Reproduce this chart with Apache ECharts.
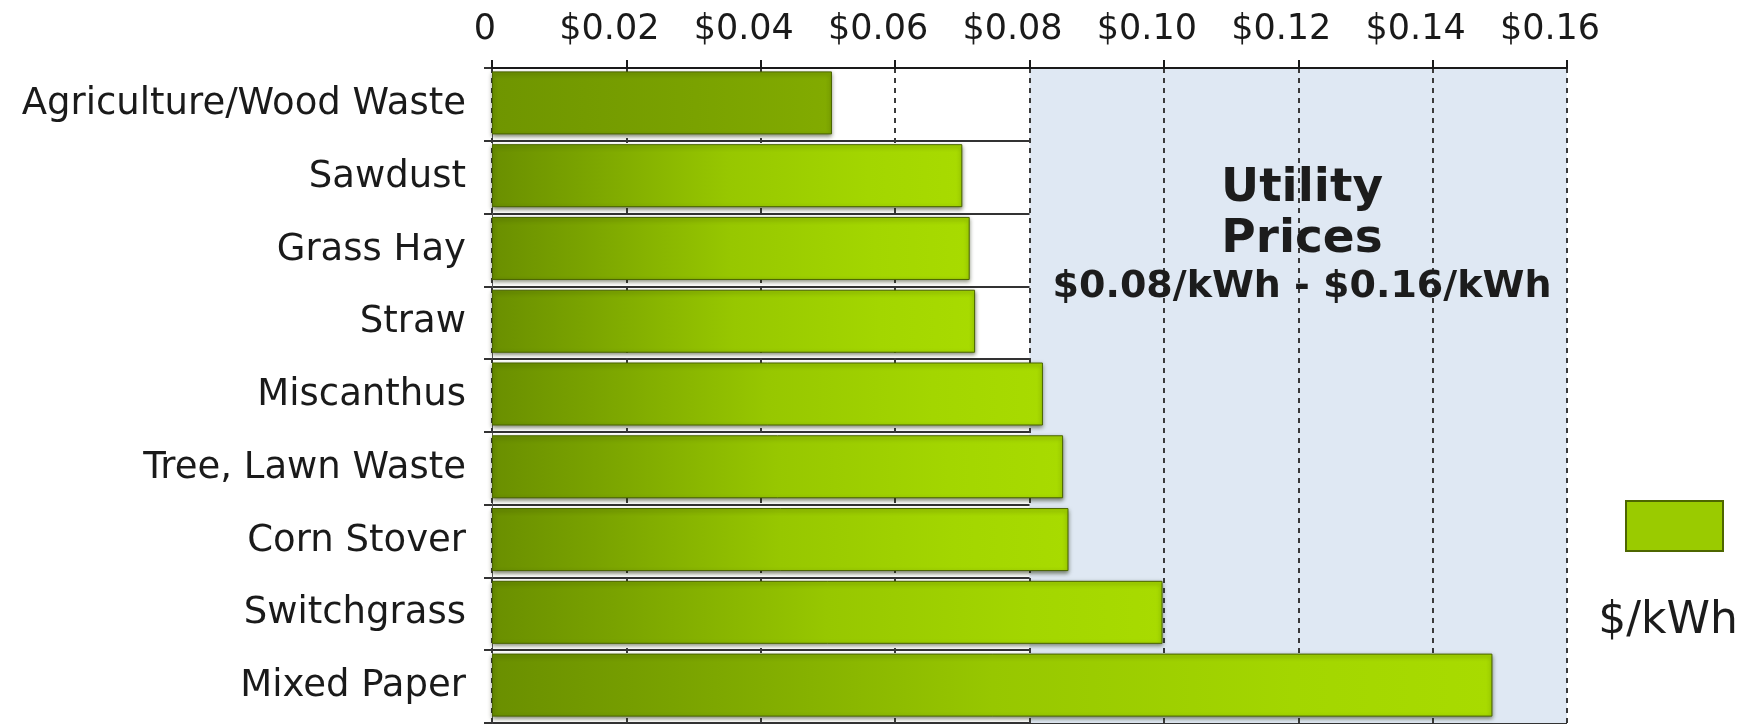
<!DOCTYPE html>
<html>
<head>
<meta charset="utf-8">
<script src="https://cdn.jsdelivr.net/npm/echarts@6/dist/echarts.min.js"></script>
<style>
  html, body { margin: 0; padding: 0; background: #ffffff; }
  #chart { width: 1758px; height: 726px; }
</style>
</head>
<body>
<div id="chart"></div>
<script>
// ---- data ----
const categories = [
  'Agriculture/Wood Waste',
  'Sawdust',
  'Grass Hay',
  'Straw',
  'Miscanthus',
  'Tree, Lawn Waste',
  'Corn Stover',
  'Switchgrass',
  'Mixed Paper'
];
const costPerKWh = [0.0506, 0.0700, 0.0711, 0.0719, 0.0820, 0.0850, 0.0858, 0.0998, 0.1489];
const spacerValues = [0, 0, 0, 0, 0, 0, 0, 0, 0];
const tickLabels = ['0', '$0.02', '$0.04', '$0.06', '$0.08', '$0.10', '$0.12', '$0.14', '$0.16'];
const utilityRange = [0.08, 0.16];
const seriesName = '$/kWh';

// ---- chart ----
const chart = echarts.init(document.getElementById('chart'), null, { renderer: 'canvas' });

const barGrad = new echarts.graphic.LinearGradient(0, 0, 1, 0, [
  { offset: 0, color: '#6a8f00' },
  { offset: 0.18, color: '#79a200' },
  { offset: 0.5, color: '#97c700' },
  { offset: 0.8, color: '#a3d600' },
  { offset: 1, color: '#a8db00' }
]);
const darkGrad = new echarts.graphic.LinearGradient(0, 0, 1, 0, [
  { offset: 0, color: '#6f9500' },
  { offset: 0.6, color: '#7aa200' },
  { offset: 1, color: '#82ab00' }
]);

const option = {
  animation: false,
  backgroundColor: '#ffffff',
  grid: { left: 492, right: 191, top: 68, bottom: 3, containLabel: false },
  xAxis: {
    type: 'value',
    position: 'top',
    min: 0,
    max: 0.16,
    interval: 0.02,
    z: 2,
    axisLine: { show: true, lineStyle: { color: '#1a1a1a', width: 2 } },
    axisTick: { show: true, length: 8, lineStyle: { color: '#1a1a1a', width: 2 } },
    axisLabel: {
      margin: 21,
      color: '#1a1a1a',
      formatter: function (v) {
        const i = Math.round(v / 0.02);
        return i === 0 ? '{z|' + tickLabels[i] + '}' : '{d|' + tickLabels[i] + '}';
      },
      rich: {
        z: { fontFamily: 'DejaVu Sans', fontSize: 35, color: '#1a1a1a', padding: [0, 14, 0, 0] },
        d: { fontFamily: 'DejaVu Sans', fontSize: 35, color: '#1a1a1a', padding: [0, 34, 0, 0] }
      }
    },
    splitLine: { show: true, lineStyle: { color: '#3a3a3a', width: 2, type: [5, 5] } }
  },
  yAxis: {
    type: 'category',
    data: categories,
    inverse: true,
    z: 0,
    axisLine: { show: true, lineStyle: { color: '#555555', width: 1 } },
    axisTick: { show: true, length: 8, lineStyle: { color: '#333333', width: 2 } },
    axisLabel: {
      margin: 26,
      fontFamily: 'DejaVu Sans',
      fontSize: 37,
      color: '#1a1a1a'
    },
    splitLine: { show: true, lineStyle: { color: '#333333', width: 2 } }
  },
  legend: {
    left: 1625,
    top: 500,
    padding: 0,
    icon: 'rect',
    itemWidth: 97,
    itemHeight: 50,
    formatter: function () { return ''; },
    textStyle: { fontSize: 1 },
    data: [{ name: seriesName, itemStyle: { color: '#9acb00', borderColor: '#4d6600', borderWidth: 2 } }]
  },
  series: [
    {
      name: 'utility',
      type: 'bar',
      z: 1,
      data: spacerValues,
      silent: true,
      itemStyle: { color: 'transparent' },
      barWidth: 0,
      markArea: {
        silent: true,
        z: 1,
        itemStyle: { color: '#dfe8f3' },
        data: [[{ xAxis: utilityRange[0] }, { xAxis: utilityRange[1] }]]
      }
    },
    {
      name: seriesName,
      type: 'bar',
      z: 3,
      data: costPerKWh,
      barWidth: 63,
      barGap: 0,
      itemStyle: {
        color: function (p) { return p.dataIndex === 0 ? darkGrad : barGrad; },
        borderColor: '#4a6400',
        borderWidth: 1,
        shadowColor: 'rgba(30,40,0,0.55)',
        shadowBlur: 4,
        shadowOffsetY: 2
      }
    },
    {
      name: 'spacer',
      type: 'bar',
      z: 3,
      data: spacerValues,
      barWidth: 4,
      barGap: 0,
      silent: true,
      itemStyle: { color: 'transparent' }
    }
  ],
  graphic: [
    {
      type: 'text', z: 10,
      style: {
        text: 'Utility', x: 1302, y: 189, textAlign: 'center', textVerticalAlign: 'middle',
        fontFamily: 'DejaVu Sans', fontWeight: 'bold', fontSize: 47, fill: '#1c1c1c'
      }
    },
    {
      type: 'text', z: 10,
      style: {
        text: 'Prices', x: 1302, y: 240, textAlign: 'center', textVerticalAlign: 'middle',
        fontFamily: 'DejaVu Sans', fontWeight: 'bold', fontSize: 47, fill: '#1c1c1c'
      }
    },
    {
      type: 'text', z: 10,
      style: {
        text: '$0.08/kWh - $0.16/kWh', x: 1302, y: 287, textAlign: 'center', textVerticalAlign: 'middle',
        fontFamily: 'DejaVu Sans', fontWeight: 'bold', fontSize: 38, fill: '#1c1c1c'
      }
    },
    {
      type: 'text', z: 10,
      style: {
        text: '$/kWh', x: 1668, y: 622, textAlign: 'center', textVerticalAlign: 'middle',
        fontFamily: 'DejaVu Sans', fontSize: 44, fill: '#1c1c1c'
      }
    }
  ]
};
chart.setOption(option);
</script>
</body>
</html>
